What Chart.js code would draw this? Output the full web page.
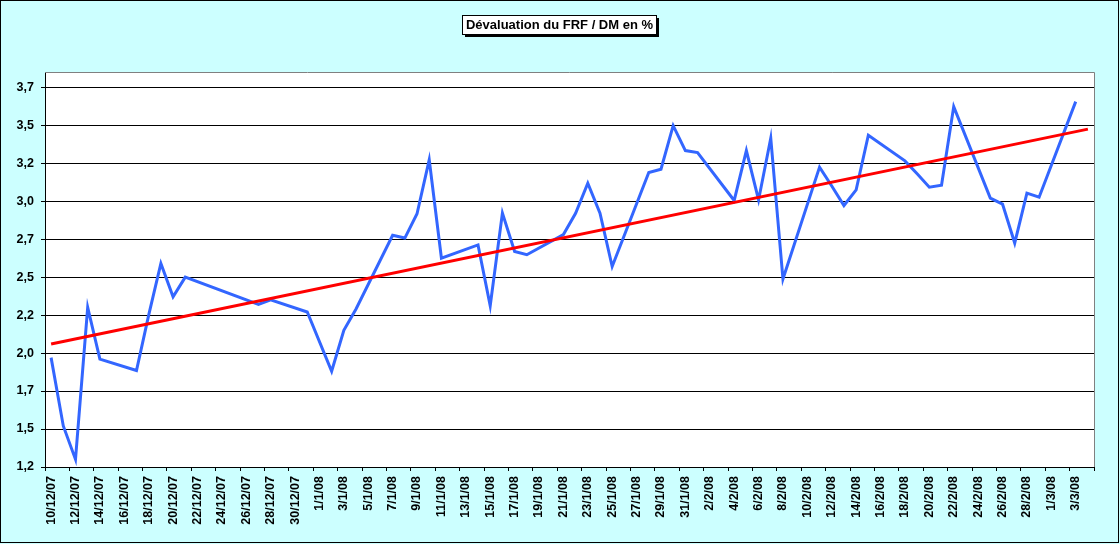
<!DOCTYPE html>
<html>
<head>
<meta charset="utf-8">
<title>Dévaluation du FRF / DM en %</title>
<script src="https://cdn.jsdelivr.net/npm/chart.js@4/dist/chart.umd.min.js"></script>
<style>
    html, body { margin: 0; padding: 0; background: #CCFFFF; }
    #wrap { width: 1120px; height: 544px; position: relative; }
</style>
</head>
<body>
<div id="wrap"><canvas id="devalChart"></canvas></div>
<script>
// Chart title
const chartTitle = 'Dévaluation du FRF / DM en %';

// One category per calendar day, 10/12/07 -> 4/3/08
const days = [
    '10/12/07', '11/12/07', '12/12/07', '13/12/07', '14/12/07', '15/12/07', '16/12/07',
    '17/12/07', '18/12/07', '19/12/07', '20/12/07', '21/12/07', '22/12/07', '23/12/07',
    '24/12/07', '25/12/07', '26/12/07', '27/12/07', '28/12/07', '29/12/07', '30/12/07',
    '31/12/07', '1/1/08', '2/1/08', '3/1/08', '4/1/08', '5/1/08', '6/1/08',
    '7/1/08', '8/1/08', '9/1/08', '10/1/08', '11/1/08', '12/1/08', '13/1/08',
    '14/1/08', '15/1/08', '16/1/08', '17/1/08', '18/1/08', '19/1/08', '20/1/08',
    '21/1/08', '22/1/08', '23/1/08', '24/1/08', '25/1/08', '26/1/08', '27/1/08',
    '28/1/08', '29/1/08', '30/1/08', '31/1/08', '1/2/08', '2/2/08', '3/2/08',
    '4/2/08', '5/2/08', '6/2/08', '7/2/08', '8/2/08', '9/2/08', '10/2/08',
    '11/2/08', '12/2/08', '13/2/08', '14/2/08', '15/2/08', '16/2/08', '17/2/08',
    '18/2/08', '19/2/08', '20/2/08', '21/2/08', '22/2/08', '23/2/08', '24/2/08',
    '25/2/08', '26/2/08', '27/2/08', '28/2/08', '29/2/08', '1/3/08', '2/3/08',
    '3/3/08', '4/3/08'
];

// Daily devaluation (%), null on weekends / holidays
const devaluation = [
    1.97, 1.52, 1.30, 2.30, 1.96, null, null,
    1.885, 2.25, 2.59, 2.37, 2.50, null, null,
    null, null, null, 2.32, 2.35, null, null,
    2.27, null, 1.88, 2.15, 2.29, null, null,
    2.775, 2.757, 2.917, 3.272, 2.625, null, null,
    2.712, 2.311, 2.921, 2.668, 2.647, null, null,
    2.78, 2.92, 3.118, 2.921, 2.57, null, null,
    3.188, 3.21, 3.497, 3.333, 3.32, null, null,
    3.004, 3.333, 3.008, 3.414, 2.487, null, null,
    3.224, 3.10, 2.971, 3.074, 3.434, null, null,
    3.265, 3.18, 3.092, 3.105, 3.622, null, null,
    3.02, 2.98, 2.724, 3.053, 3.026, null, null,
    3.655, null
];

// Linear trend line (end points)
const trendPoints = [
    { x: '10/12/07', y: 2.06 },
    { x: '4/3/08', y: 3.474 },
];

// Y axis ticks
const yTicks = [1.25, 1.5, 1.75, 2.0, 2.25, 2.5, 2.75, 3.0, 3.25, 3.5, 3.75];

const FONT = '"Liberation Sans", Arial, sans-serif';

// Excel-like frame: cyan background, white plot, grey plot border, title box
const excelFrame = {
    id: 'excelFrame',
    beforeDraw(chart) {
        const { ctx, chartArea: a, width, height } = chart;
        ctx.save();
        ctx.fillStyle = '#CCFFFF';
        ctx.fillRect(0, 0, width, height);
        ctx.fillStyle = '#FFFFFF';
        ctx.fillRect(a.left, a.top, a.right - a.left, a.bottom - a.top);
        ctx.restore();
    },
    beforeDatasetsDraw(chart) {
        const { ctx, chartArea: a } = chart;
        ctx.save();
        ctx.strokeStyle = '#808080';
        ctx.lineWidth = 1;
        ctx.beginPath();
        ctx.moveTo(a.left, a.top + 0.5);
        ctx.lineTo(a.right + 0.5, a.top + 0.5);
        ctx.lineTo(a.right + 0.5, a.bottom);
        ctx.stroke();
        ctx.restore();
    },
    afterDraw(chart) {
        const { ctx, width, height } = chart;
        ctx.save();
        // outer border
        ctx.strokeStyle = '#000';
        ctx.lineWidth = 1;
        ctx.strokeRect(0.5, 0.5, width - 2, height - 2);

        // title box with shadow
        ctx.font = 'bold 13px ' + FONT;
        const w = Math.round(ctx.measureText(chartTitle).width) + 7;
        const h = 19;
        const left = Math.round(558.5 - w / 2);
        const top = 15;
        ctx.fillStyle = '#000';
        ctx.fillRect(left + 3, top + 3, w, h);
        ctx.fillStyle = '#FFF';
        ctx.fillRect(left, top, w, h);
        ctx.strokeRect(left + 0.5, top + 0.5, w, h);
        ctx.fillStyle = '#000';
        ctx.textAlign = 'center';
        ctx.textBaseline = 'middle';
        ctx.fillText(chartTitle, left + w / 2 + 0.5, top + h / 2 + 1);
        ctx.restore();
    },
};

function initDevalChart() {
    const ctx = document.getElementById('devalChart');
    if (!ctx) return;

    new Chart(ctx, {
        type: 'line',
        data: {
            labels: days,
            datasets: [{
                label: 'Tendance',
                data: trendPoints,
                borderColor: '#FF0000',
                borderWidth: 3,
                pointRadius: 0,
                tension: 0,
                fill: false,
            }, {
                label: 'FRF / DM',
                data: devaluation,
                borderColor: '#3366FF',
                borderWidth: 3,
                pointRadius: 0,
                tension: 0,
                spanGaps: true,
                fill: false,
            }],
        },
        options: {
            responsive: true,
            maintainAspectRatio: false,
            animation: false,
            layout: {
                padding: { left: 0, top: 72, right: 26, bottom: 0 },
            },
            plugins: {
                legend: { display: false },
                tooltip: { enabled: false },
            },
            scales: {
                x: {
                    type: 'category',
                    offset: true,
                    grid: {
                        offset: true,
                        drawOnChartArea: false,
                        tickLength: 4,
                        color: function(c) {
                            return (c.index === undefined || c.index % 2 === 0) ? '#000' : 'rgba(0,0,0,0)';
                        },
                    },
                    border: { color: '#000', width: 1 },
                    ticks: {
                        autoSkip: false,
                        minRotation: 90,
                        maxRotation: 90,
                        padding: 5,
                        color: '#000',
                        font: { family: FONT, size: 12.5, weight: 'bold' },
                        callback: function(value, index) {
                            return index % 2 === 0 ? this.getLabelForValue(value) : '';
                        },
                    },
                    afterFit: function(scale) {
                        scale.height = 77;
                    },
                },
                y: {
                    min: 1.25,
                    max: 3.85,
                    bounds: 'data',
                    grid: { color: '#000', lineWidth: 1, tickLength: 4 },
                    border: { color: '#000', width: 1 },
                    ticks: {
                        padding: 7,
                        color: '#000',
                        font: { family: FONT, size: 12.5, weight: 'bold' },
                        callback: function(value) {
                            return (Math.floor(value * 10 + 1e-6) / 10).toFixed(1).replace('.', ',');
                        },
                    },
                    afterBuildTicks: function(scale) {
                        scale.ticks = yTicks.map(v => ({ value: v }));
                    },
                    afterFit: function(scale) {
                        scale.width = 45;
                    },
                },
            },
        },
        plugins: [excelFrame],
    });
}

initDevalChart();
</script>
</body>
</html>
